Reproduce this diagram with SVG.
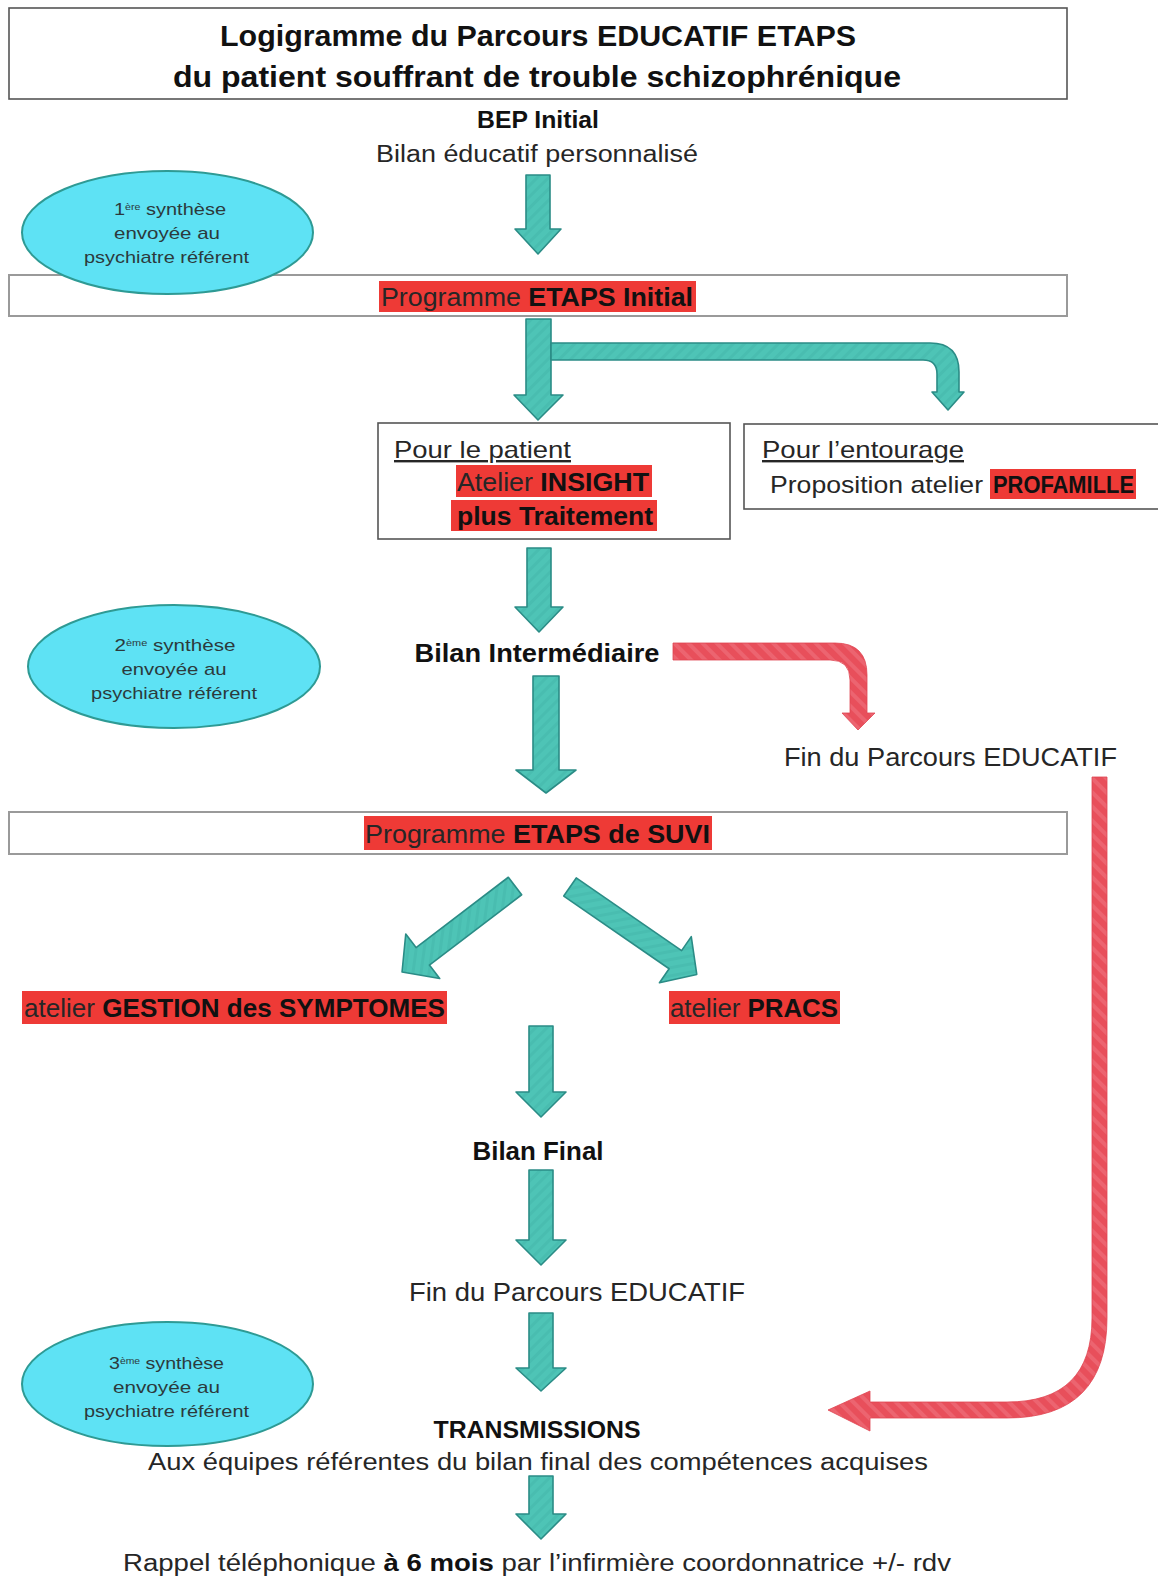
<svg xmlns="http://www.w3.org/2000/svg" width="1158" height="1577" viewBox="0 0 1158 1577">
<defs>
<pattern id="tealTex" patternUnits="userSpaceOnUse" width="8" height="8" patternTransform="rotate(45)">
<rect width="8" height="8" fill="#4EC4B6"/>
<rect width="3" height="8" fill="#49BDB0"/>
</pattern>
<pattern id="redTex" patternUnits="userSpaceOnUse" width="10" height="10" patternTransform="rotate(-45)">
<rect width="10" height="10" fill="#E84F5B"/>
<rect width="4" height="10" fill="#EC6470"/>
</pattern>
<style>
text{font-family:"Liberation Sans",Arial,sans-serif;fill:#262626}
.b{font-weight:bold;fill:#111}
.box{fill:#fff;stroke:#555;stroke-width:1.6}
.gbox{fill:#fff;stroke:#9a9a9a;stroke-width:2}
.hl{fill:#EE3A36}
.ell{fill:#5EE2F4;stroke:#2E9A94;stroke-width:2}
.et{font-size:17px;fill:#2c3a3c;text-anchor:middle}
.teal{fill:url(#tealTex);stroke:#2B8C86;stroke-width:1.6;stroke-linejoin:round}
.red{fill:url(#redTex);stroke:#E04552;stroke-width:0.8}
</style>
</defs>
<rect width="1158" height="1577" fill="#fff"/>

<g id="title">
<rect class="box" x="9" y="8" width="1058" height="91" stroke-width="2"/>
<text class="b" x="538" y="46" font-size="29" text-anchor="middle" textLength="636" lengthAdjust="spacingAndGlyphs">Logigramme du Parcours EDUCATIF ETAPS</text>
<text class="b" x="537" y="87" font-size="29" text-anchor="middle" textLength="728" lengthAdjust="spacingAndGlyphs">du patient souffrant de trouble schizophrénique</text>
</g>

<g id="bep">
<text class="b" x="538" y="128" font-size="24" text-anchor="middle" textLength="122" lengthAdjust="spacingAndGlyphs">BEP Initial</text>
<text x="537" y="162" font-size="23" text-anchor="middle" textLength="322" lengthAdjust="spacingAndGlyphs">Bilan éducatif personnalisé</text>
</g>

<g id="prog-initial">
<rect class="gbox" x="9" y="275" width="1058" height="41"/>
<rect class="hl" x="379" y="281" width="317" height="31"/>
<text x="381" y="306" font-size="26" textLength="312" lengthAdjust="spacingAndGlyphs">Programme <tspan class="b">ETAPS Initial</tspan></text>
</g>

<g id="synthese1">
<ellipse class="ell" cx="167.5" cy="232.5" rx="145.5" ry="61.5"/>
<text class="et" x="170" y="215" textLength="112" lengthAdjust="spacingAndGlyphs">1<tspan font-size="9" baseline-shift="super">ère</tspan> synthèse</text>
<text class="et" x="167" y="239" textLength="106" lengthAdjust="spacingAndGlyphs">envoyée au</text>
<text class="et" x="166.5" y="263" textLength="165" lengthAdjust="spacingAndGlyphs">psychiatre référent</text>
</g>

<g id="patient">
<rect class="box" x="378" y="423" width="352" height="116"/>
<text x="394" y="458" font-size="24" text-decoration="underline" textLength="177" lengthAdjust="spacingAndGlyphs">Pour le patient</text>
<rect class="hl" x="456" y="465" width="196" height="32"/>
<text x="457" y="491" font-size="26" textLength="192" lengthAdjust="spacingAndGlyphs">Atelier <tspan class="b">INSIGHT</tspan></text>
<rect class="hl" x="451" y="500" width="206" height="31"/>
<text class="b" x="457" y="525" font-size="26" textLength="196" lengthAdjust="spacingAndGlyphs">plus Traitement</text>
</g>

<g id="entourage">
<rect class="box" x="744" y="424" width="430" height="85"/>
<text x="762" y="458" font-size="24" text-decoration="underline" textLength="202" lengthAdjust="spacingAndGlyphs">Pour l’entourage</text>
<rect class="hl" x="990" y="469" width="146" height="30"/>
<text x="770" y="493" font-size="24" textLength="213" lengthAdjust="spacingAndGlyphs">Proposition atelier</text>
<text class="b" x="993" y="493" font-size="24" textLength="141" lengthAdjust="spacingAndGlyphs">PROFAMILLE</text>
</g>

<g id="synthese2">
<ellipse class="ell" cx="174" cy="666.5" rx="146" ry="61.5"/>
<text class="et" x="175" y="651" textLength="121" lengthAdjust="spacingAndGlyphs">2<tspan font-size="9" baseline-shift="super">ème</tspan>  synthèse</text>
<text class="et" x="174" y="675" textLength="105" lengthAdjust="spacingAndGlyphs">envoyée au</text>
<text class="et" x="174" y="699" textLength="166" lengthAdjust="spacingAndGlyphs">psychiatre référent</text>
</g>

<g id="bilan-intermediaire">
<text class="b" x="537" y="662" font-size="25" text-anchor="middle" textLength="245" lengthAdjust="spacingAndGlyphs">Bilan Intermédiaire</text>
</g>

<g id="fin1">
<text x="784" y="766" font-size="25" textLength="333" lengthAdjust="spacingAndGlyphs">Fin du Parcours EDUCATIF</text>
</g>

<g id="prog-suivi">
<rect class="gbox" x="9" y="812" width="1058" height="42"/>
<rect class="hl" x="364" y="816" width="348" height="34"/>
<text x="365" y="843" font-size="26" textLength="345" lengthAdjust="spacingAndGlyphs">Programme <tspan class="b">ETAPS de SUVI</tspan></text>
</g>

<g id="gestion">
<rect class="hl" x="22" y="991" width="425" height="33"/>
<text x="24" y="1017" font-size="26" textLength="421" lengthAdjust="spacingAndGlyphs">atelier <tspan class="b">GESTION des SYMPTOMES</tspan></text>
</g>

<g id="pracs">
<rect class="hl" x="669" y="991" width="171" height="33"/>
<text x="670" y="1017" font-size="26" textLength="168" lengthAdjust="spacingAndGlyphs">atelier <tspan class="b">PRACS</tspan></text>
</g>

<g id="bilan-final">
<text class="b" x="538" y="1160" font-size="25" text-anchor="middle" textLength="131" lengthAdjust="spacingAndGlyphs">Bilan Final</text>
</g>

<g id="fin2">
<text x="577" y="1301" font-size="25" text-anchor="middle" textLength="336" lengthAdjust="spacingAndGlyphs">Fin du Parcours EDUCATIF</text>
</g>

<g id="synthese3">
<ellipse class="ell" cx="167.5" cy="1384" rx="145.5" ry="62"/>
<text class="et" x="166.5" y="1369" textLength="115" lengthAdjust="spacingAndGlyphs">3<tspan font-size="9" baseline-shift="super">ème</tspan> synthèse</text>
<text class="et" x="166.5" y="1393" textLength="107" lengthAdjust="spacingAndGlyphs">envoyée au</text>
<text class="et" x="166.5" y="1417" textLength="165" lengthAdjust="spacingAndGlyphs">psychiatre référent</text>
</g>

<g id="transmissions">
<text class="b" x="537" y="1438" font-size="24" text-anchor="middle" textLength="207" lengthAdjust="spacingAndGlyphs">TRANSMISSIONS</text>
<text x="538" y="1470" font-size="23" text-anchor="middle" textLength="780" lengthAdjust="spacingAndGlyphs">Aux équipes référentes du bilan final des compétences acquises</text>
</g>

<g id="rappel">
<text x="537" y="1571" font-size="23" text-anchor="middle" textLength="828" lengthAdjust="spacingAndGlyphs">Rappel téléphonique <tspan class="b">à 6 mois</tspan> par l’infirmière coordonnatrice +/- rdv</text>
</g>

<g id="connectors">
<path class="teal" d="M526,175 H550 V229 H561 L538,254 L515,229 H526 Z"/>
<path class="teal" d="M526,319 H551 V395 H563 L538,420 L514,395 H526 Z"/>
<path class="teal" d="M551,343 H930 Q959,343 959,372 V392 H964 L948,410 L932,392 H937 V374 Q937,360 923,360 H551 Z"/>
<path class="teal" d="M527,548 H551 V607 H563 L539,632 L515,607 H527 Z"/>
<path class="teal" d="M533,676 H559 V770 H576 L546,793 L516,770 H533 Z"/>
<path class="teal" d="M0,-11 H116 V-28 L142,0 L116,28 V11 H0 Z" transform="translate(515,886) rotate(142.7)"/>
<path class="teal" d="M0,-11 H128 V-28 L154,0 L128,28 V11 H0 Z" transform="translate(570,887) rotate(34.6)"/>
<path class="teal" d="M529,1026 H553 V1092 H566 L541,1117 L516,1092 H529 Z"/>
<path class="teal" d="M529,1170 H553 V1240 H566 L541,1265 L516,1240 H529 Z"/>
<path class="teal" d="M529,1313 H553 V1368 H566 L541,1391 L516,1368 H529 Z"/>
<path class="teal" d="M529,1476 H553 V1514 H566 L541,1539 L516,1514 H529 Z"/>
<path class="red" d="M673,643 H835 Q867,643 867,675 V713 H875 L858,730 L842,713 H850 V680 Q850,660 830,660 H673 Z"/>
<path class="red" d="M1092,777 H1107 V1318 Q1107,1418 1007,1418 H870 V1431 L828,1410 L870,1391 V1402 H1007 Q1092,1402 1092,1318 Z"/>
</g>
</svg>
